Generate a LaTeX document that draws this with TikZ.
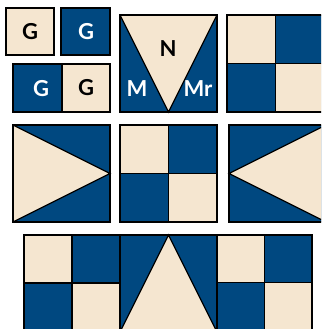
\documentclass[tikz,border=0pt]{standalone}
\usepackage{fontspec}
\setmainfont{Lato}
\definecolor{qblue}{RGB}{0,72,128}
\definecolor{qcream}{RGB}{245,230,208}
\tikzset{
  tile/.style={draw=black,line width=1.2pt,line join=miter},
  shade/.style={fill=black!22},
  lbl/.style={font=\fontsize{22}{22}\selectfont\bfseries,inner sep=0pt},
  lbldark/.style={lbl,text=black},
  lbllight/.style={lbl,text=white}
}
\newcommand{\checkerq}[3]{%
  \fill[shade] (#1+1.2,#2+1.2) rectangle ++(#3,#3);
  \fill[qcream] (#1,#2) rectangle ++(#3/2,#3/2);
  \fill[qblue] (#1+#3/2,#2) rectangle ++(#3/2,#3/2);
  \fill[qblue] (#1,#2+#3/2) rectangle ++(#3/2,#3/2);
  \fill[qcream] (#1+#3/2,#2+#3/2) rectangle ++(#3/2,#3/2);
  \draw[tile] (#1+#3/2,#2) -- ++(0,#3) (#1,#2+#3/2) -- ++(#3,0);
  \draw[tile] (#1,#2) rectangle ++(#3,#3);
}
\begin{document}
\begin{tikzpicture}[x=1pt,y=-1pt]
\useasboundingbox (0,0) rectangle (321,329);
\clip (0,0) rectangle (321,329);
\fill[white] (0,0) rectangle (321,329);
% small G tiles
\fill[shade] (7.2,9.2) rectangle (55.2,56.2);
\fill[shade] (62.2,9.2) rectangle (111.2,56.2);
\fill[shade] (14.2,65.2) rectangle (111.2,113.2);
\filldraw[tile,fill=qcream] (6,8) rectangle (54,55);
\filldraw[tile,fill=qblue] (61,8) rectangle (110,55);
\filldraw[tile,fill=qblue] (13,64) rectangle (62,112);
\filldraw[tile,fill=qcream] (62,64) rectangle (110,112);
\node[lbldark] (g1) at (30,32) {G};
\node[lbllight] (g2) at (86,32) {G};
\node[lbllight] (g3) at (41,89) {G};
\node[lbldark] (g4) at (86,88) {G};
% V square
\fill[shade] (121.2,16.2) rectangle (218.2,113.2);
\fill[qblue] (120,15) rectangle (217,112);
\filldraw[tile,fill=qcream] (120,15) -- (217,15) -- (168.5,112) -- cycle;
\draw[tile] (120,15) rectangle (217,112);
\node[lbldark] (n) at (168,49) {N};
\node[lbllight] (m) at (137,89) {M};
\node[lbllight] (mr) at (198,89) {Mr};
% top-right checker
\checkerq{227}{15}{97}
% middle row
\fill[shade] (14.2,126.2) rectangle (111.2,223.2);
\fill[qblue] (13,125) rectangle (110,222);
\filldraw[tile,fill=qcream] (13,125) -- (110,173.5) -- (13,222) -- cycle;
\draw[tile] (13,125) rectangle (110,222);
\checkerq{120}{125}{97}
\fill[shade] (230.2,126.2) rectangle (327.2,223.2);
\fill[qblue] (229,125) rectangle (326,222);
\filldraw[tile,fill=qcream] (326,125) -- (229,173.5) -- (326,222) -- cycle;
\draw[tile] (229,125) rectangle (326,222);
% bottom row
\checkerq{24}{235}{96}
\fill[shade] (121.2,236.2) rectangle (218.2,333.2);
\fill[qblue] (120,235) rectangle (217,332);
\filldraw[tile,fill=qcream] (168.5,235) -- (217,332) -- (120,332) -- cycle;
\draw[tile] (120,235) rectangle (217,332);
\checkerq{217}{235}{95}
\end{tikzpicture}
\end{document}
